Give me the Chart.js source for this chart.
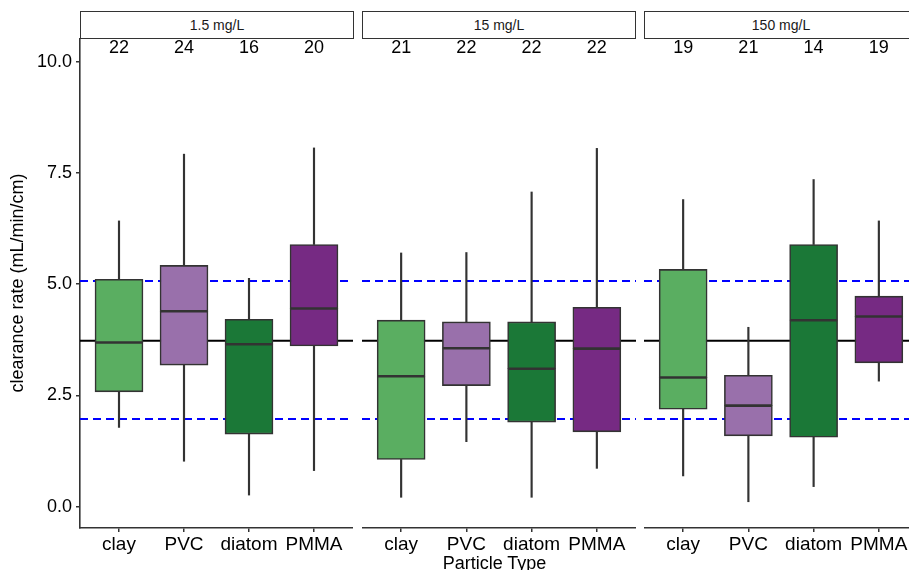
<!DOCTYPE html>
<html>
<head>
<meta charset="utf-8">
<script src="https://cdn.jsdelivr.net/npm/chart.js@4.4.0/dist/chart.umd.min.js"></script>
<style>
  html, body { margin:0; padding:0; background:#fff; width:909px; height:570px; overflow:hidden;
               font-family:"Liberation Sans", Arial, sans-serif; }
  .panel  { position:absolute; top:38px; height:532px; }
  .strip  { position:absolute; top:11px; height:26px; border:1px solid #333; background:#fff;
            text-align:center; font-size:14px; line-height:26px; color:#1a1a1a; box-sizing:content-box; }
  #xTitle { position:absolute; left:80px; width:829px; top:554px; text-align:center;
            font-size:18px; line-height:18px; color:#000; }
</style>
</head>
<body>
<div class="strip" style="left:80px;  width:272px">1.5 mg/L</div>
<div class="strip" style="left:362px; width:272px">15 mg/L</div>
<div class="strip" style="left:644px; width:272px">150 mg/L</div>

<div class="panel" style="left:0;     width:353px"><canvas id="p0"></canvas></div>
<div class="panel" style="left:362px; width:274px"><canvas id="p1"></canvas></div>
<div class="panel" style="left:644px; width:274px"><canvas id="p2"></canvas></div>

<div id="xTitle">Particle Type</div>

<script>
/* ───────────── data ───────────── */
const particles      = ['clay', 'PVC', 'diatom', 'PMMA'];
const concentrations = ['1.5 mg/L', '15 mg/L', '150 mg/L'];
const boxColors      = ['#5aae61', '#9970ab', '#1b7837', '#762a83'];

// one row per concentration, one column per particle
const counts      = [[22, 24, 16, 20], [21, 22, 22, 22], [19, 21, 14, 19]];
const whiskerLow  = [[1.78, 1.02, 0.26, 0.81], [0.21, 1.46, 0.21, 0.86], [0.69, 0.11, 0.45, 2.82]];
const q1          = [[2.58, 3.18, 1.63, 3.61], [1.06, 2.72, 1.90, 1.68], [2.19, 1.59, 1.56, 3.23]];
const median      = [[3.69, 4.39, 3.65, 4.45], [2.93, 3.56, 3.10, 3.55], [2.90, 2.27, 4.19, 4.27]];
const q3          = [[5.11, 5.42, 4.21, 5.89], [4.19, 4.15, 4.15, 4.48], [5.33, 2.95, 5.89, 4.73]];
const whiskerHigh = [[6.42, 7.92, 5.13, 8.06], [5.70, 5.71, 7.07, 8.05], [6.90, 4.03, 7.35, 6.42]];

const overallMean = 3.73;          // solid black reference line
const bandLow     = 1.97;          // dashed blue lines
const bandHigh    = 5.07;
const countY      = 10.3;          // where the n labels sit
const yTicks      = [0, 2.5, 5, 7.5, 10];

/* ───────────── shared setup ───────────── */
const FONT  = 'Liberation Sans';
const X_MIN = 0.4, X_MAX = 4.6;    // ggplot style discrete expansion
const Y_MIN = -0.48, Y_MAX = 10.53;

const pos   = particles.map((_, i) => i + 1);
const range = (lo, hi) => pos.map((x, i) => ({ x, y: [lo[i], hi[i]] }));
const hline = y => [{ x: X_MIN, y }, { x: X_MAX, y }];
const noPad = s => { s.paddingTop = s.paddingBottom = s.paddingLeft = s.paddingRight = 0; };

/* n labels above each box */
const countLabels = {
  id: 'countLabels',
  afterDatasetsDraw(chart, args, opts) {
    const { ctx, scales: { x, y } } = chart;
    ctx.save();
    ctx.font = `18px "${FONT}"`;
    ctx.fillStyle = '#000';
    ctx.textAlign = 'center';
    ctx.textBaseline = 'middle';
    opts.values.forEach((n, i) => ctx.fillText(n, x.getPixelForValue(i + 1), y.getPixelForValue(countY)));
    ctx.restore();
  }
};

function makePanel(p) {
  const first = p === 0;

  const whisker = { type: 'bar', backgroundColor: '#333', barThickness: 1.5, grouped: false, order: 1 };
  const box = { type: 'bar', backgroundColor: boxColors, borderColor: '#333', borderWidth: 1.6,
                borderSkipped: false, barThickness: 48, grouped: false, order: 0 };
  const ref = { type: 'line', pointRadius: 0, order: 5, tension: 0 };

  new Chart(document.getElementById('p' + p), {
    type: 'bar',
    data: {
      datasets: [
        { ...whisker, data: range(whiskerLow[p], q1[p]) },
        { ...whisker, data: range(q3[p], whiskerHigh[p]) },
        { ...box, data: range(q1[p], median[p]) },
        { ...box, data: range(median[p], q3[p]) },
        { ...ref, data: hline(overallMean), borderColor: '#000', borderWidth: 2 },
        { ...ref, data: hline(bandHigh), borderColor: '#0000ff', borderWidth: 2, borderDash: [8, 5] },
        { ...ref, data: hline(bandLow),  borderColor: '#0000ff', borderWidth: 2, borderDash: [8, 5] }
      ]
    },
    options: {
      responsive: true, maintainAspectRatio: false, animation: false,
      layout: { padding: 0 },
      plugins: { legend: { display: false }, tooltip: { enabled: false },
                 countLabels: { values: counts[p] } },
      scales: {
        x: {
          type: 'linear', min: X_MIN, max: X_MAX, offset: false,
          afterBuildTicks: s => { s.ticks = pos.map(v => ({ value: v })); },
          afterFit: s => { s.height = 42; noPad(s); },
          ticks: { callback: v => particles[v - 1], color: '#000', padding: 1,
                   font: { family: FONT, size: 19 }, maxRotation: 0, autoSkip: false },
          grid: { offset: false, drawOnChartArea: false, tickLength: 4, color: '#333', lineWidth: 1.5 },
          border: { color: '#333', width: 1.6 }
        },
        y: {
          display: first,
          min: Y_MIN, max: Y_MAX,
          afterBuildTicks: s => { s.ticks = yTicks.map(v => ({ value: v })); },
          afterFit: s => { if (first) s.width = 80; noPad(s); },
          ticks: { callback: v => v.toFixed(1), color: '#000', padding: 4,
                   font: { family: FONT, size: 18 } },
          grid: { drawOnChartArea: false, tickLength: 4, color: '#333', lineWidth: 1.5 },
          border: { color: '#333', width: 1.6 },
          title: { display: true, text: 'clearance rate (mL/min/cm)', color: '#000',
                   font: { family: FONT, size: 18 }, padding: { top: 7, bottom: 0 } }
        }
      }
    },
    plugins: [countLabels]
  });
}

concentrations.forEach((_, p) => makePanel(p));
</script>
</body>
</html>
